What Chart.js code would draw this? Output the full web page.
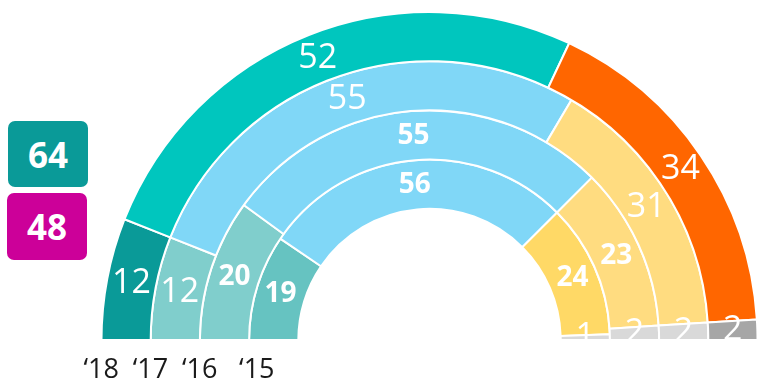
<!DOCTYPE html>
<html>
<head>
<meta charset="utf-8">
<script src="https://cdn.jsdelivr.net/npm/chart.js@4"></script>
<style>
  html, body { margin: 0; padding: 0; background: #fff; }
  #wrap { position: relative; width: 759px; height: 381px; overflow: hidden; }
  #seats { position: absolute; left: 0; top: 0; }
  .badge {
    position: absolute; width: 80px; border-radius: 7px;
    color: #fff; font: bold 35px 'Open Sans', sans-serif;
    display: flex; align-items: center; justify-content: center;
  }
</style>
</head>
<body>
<div id="wrap">
  <canvas id="seats" width="759" height="381"></canvas>
  <div class="badge" id="badgeA" style="left:8px; top:121px; height:66px; background:#0A9A98;"></div>
  <div class="badge" id="badgeB" style="left:7px; top:193px; height:67px; background:#CC0099;"></div>
</div>
<script>
document.addEventListener('DOMContentLoaded', function () {

  // one ring per year, outermost first
  const years = ['\u201818', '\u201817', '\u201816', '\u201815'];
  const parties = ['Links', 'Midden', 'Rechts', 'Overig'];
  const seats18 = [12, 52, 34, 2];
  const seats17 = [12, 55, 31, 2];
  const seats16 = [20, 55, 23, 2];
  const seats15 = [19, 56, 24, 1];
  const badgeValues = [64, 48];

  const colors18 = ['#0A9A98', '#00C6BE', '#FF6600', '#A6A6A6'];
  const colors17 = ['#80CECC', '#80D7F7', '#FFDC80', '#D9D9D9'];
  const colors16 = ['#80CECC', '#80D7F7', '#FFDC80', '#D9D9D9'];
  const colors15 = ['#66C3C1', '#80D7F7', '#FFD966', '#D9D9D9'];

  document.getElementById('badgeA').textContent = badgeValues[0];
  document.getElementById('badgeB').textContent = badgeValues[1];

  Chart.defaults.font.family = "'Open Sans', sans-serif";

  const ring = (label, data, backgroundColor, bold) => ({
    label, data, backgroundColor, bold,
    borderColor: '#FFFFFF',
    borderWidth: 2
  });

  // value labels at each arc's centroid, clipped at the flat base
  const arcLabels = {
    id: 'arcLabels',
    afterDatasetsDraw(chart) {
      const ctx = chart.ctx;
      ctx.save();
      const base = chart.getDatasetMeta(0).data[0].y;
      ctx.beginPath();
      ctx.rect(0, 0, chart.width, base);
      ctx.clip();
      ctx.fillStyle = '#FFFFFF';
      ctx.textAlign = 'center';
      ctx.textBaseline = 'middle';
      chart.data.datasets.forEach((ds, i) => {
        chart.getDatasetMeta(i).data.forEach((arc, j) => {
          const pos = arc.tooltipPosition();
          const bold = ds.bold && j < 3;
          ctx.font = bold ? "bold 28px 'Open Sans'" : "34px 'Open Sans'";
          ctx.fillText(String(ds.data[j]), pos.x, pos.y);
        });
      });
      ctx.restore();
    },
    afterDraw(chart) {
      const ctx = chart.ctx;
      ctx.save();
      ctx.fillStyle = '#1A1A1A';
      ctx.font = "27px 'Open Sans'";
      ctx.textAlign = 'left';
      ctx.textBaseline = 'alphabetic';
      years.forEach((yr, i) => {
        const arc = chart.getDatasetMeta(i).data[0];
        const shift = i === 3 ? -10 : -18;
        ctx.fillText(yr, arc.x - arc.outerRadius + shift, arc.y + 38);
      });
      ctx.restore();
    }
  };

  new Chart(document.getElementById('seats'), {
    type: 'doughnut',
    data: {
      labels: parties,
      datasets: [
        ring(years[0], seats18, colors18, false),
        ring(years[1], seats17, colors17, false),
        ring(years[2], seats16, colors16, true),
        ring(years[3], seats15, colors15, true)
      ]
    },
    options: {
      responsive: false,
      animation: false,
      rotation: -90,
      circumference: 180,
      cutout: '40%',
      layout: { padding: { left: 100, top: 11, right: 0, bottom: 40 } },
      plugins: {
        legend: { display: false },
        tooltip: { enabled: false }
      }
    },
    plugins: [arcLabels]
  });
});
</script>
</body>
</html>
